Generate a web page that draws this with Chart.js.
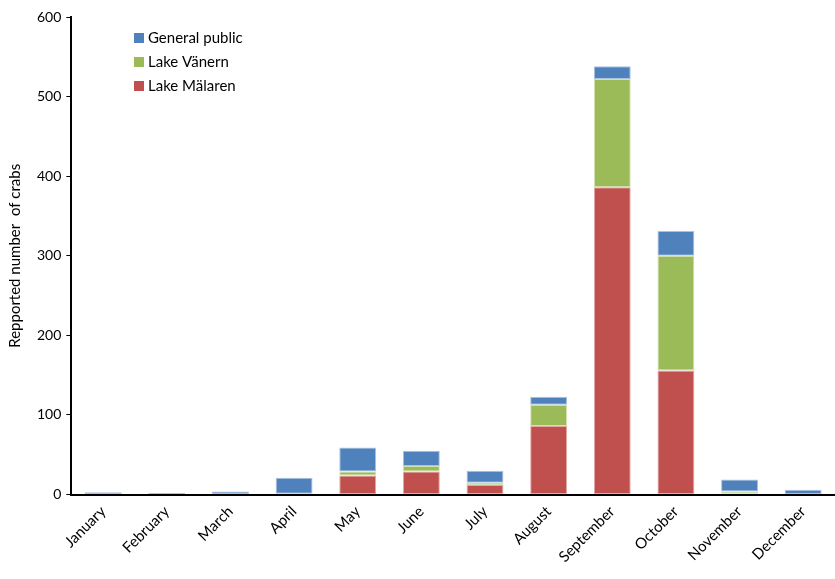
<!DOCTYPE html>
<html>
<head>
<meta charset="utf-8">
<script src="https://cdn.jsdelivr.net/npm/chart.js@4/dist/chart.umd.min.js"></script>
<style>
  html, body { margin: 0; padding: 0; background: #fff; }
  #wrap { width: 835px; height: 579px; position: relative; }
</style>
</head>
<body>
<div id="wrap"><canvas id="c"></canvas></div>
<script>
// Reported crab catches per month, stacked by source
const months = ['January', 'February', 'March', 'April', 'May', 'June', 'July',
                'August', 'September', 'October', 'November', 'December'];
const lakeMalaren   = [0, 0, 0, 1, 24, 29, 12, 86, 386, 156, 1, 0];
const lakeVanern    = [0, 0, 0, 0, 5, 7, 3, 27, 136, 144, 3, 0];
const generalPublic = [3, 2, 4, 20, 30, 19, 15, 10, 16, 31, 15, 6];
const yTicks = [0, 100, 200, 300, 400, 500, 600];

const FONT = 'Lato, "Open Sans", sans-serif';

const seriesStyle = [
  { label: 'Lake Mälaren',   data: lakeMalaren,   color: '#C0504D', edge: '#E3A9A7' },
  { label: 'Lake Vänern',    data: lakeVanern,    color: '#9BBB59', edge: '#D3E2B5' },
  { label: 'General public', data: generalPublic, color: '#4F81BD', edge: '#A9C2E0' }
];

// Legend drawn inside the plot area, top series first
const insideLegend = {
  id: 'insideLegend',
  afterDraw(chart) {
    const ctx = chart.ctx;
    const items = chart.data.datasets.slice().reverse();
    const x0 = 134, rows = [38, 62, 86];
    ctx.save();
    ctx.font = '15px ' + FONT;
    ctx.textBaseline = 'middle';
    items.forEach((ds, i) => {
      ctx.fillStyle = ds.backgroundColor;
      ctx.fillRect(x0, rows[i] - 5, 10, 10);
      ctx.fillStyle = '#000';
      ctx.fillText(ds.label, x0 + 14, rows[i]);
    });
    ctx.restore();
  }
};

new Chart(document.getElementById('c'), {
  type: 'bar',
  data: {
    labels: months,
    datasets: seriesStyle.map(s => ({
      label: s.label,
      data: s.data,
      backgroundColor: s.color,
      borderColor: s.edge,
      borderWidth: 1,
      borderSkipped: false,
      categoryPercentage: 1.0,
      barPercentage: 0.58
    }))
  },
  options: {
    responsive: true,
    maintainAspectRatio: false,
    animation: false,
    layout: { padding: { top: 17, right: 0, bottom: 5, left: 6 } },
    plugins: {
      legend: { display: false },
      tooltip: { enabled: false }
    },
    scales: {
      x: {
        stacked: true,
        grid: { display: false, drawTicks: false },
        border: { color: '#000', width: 2 },
        ticks: {
          color: '#000',
          font: { family: FONT, size: 15 },
          minRotation: 45,
          maxRotation: 45,
          padding: 8
        }
      },
      y: {
        stacked: true,
        min: 0,
        max: 600,
        afterBuildTicks(axis) { axis.ticks = yTicks.map(v => ({ value: v })); },
        grid: {
          drawOnChartArea: false,
          drawTicks: true,
          tickLength: 5,
          color: '#000',
          lineWidth: 1
        },
        border: { color: '#000', width: 2 },
        ticks: {
          color: '#000',
          font: { family: FONT, size: 14 },
          padding: 5
        },
        title: {
          display: true,
          text: 'Repported number  of crabs',
          color: '#000',
          font: { family: FONT, size: 15 },
          padding: { top: 0, bottom: 8 }
        }
      }
    }
  },
  plugins: [insideLegend]
});
</script>
</body>
</html>
